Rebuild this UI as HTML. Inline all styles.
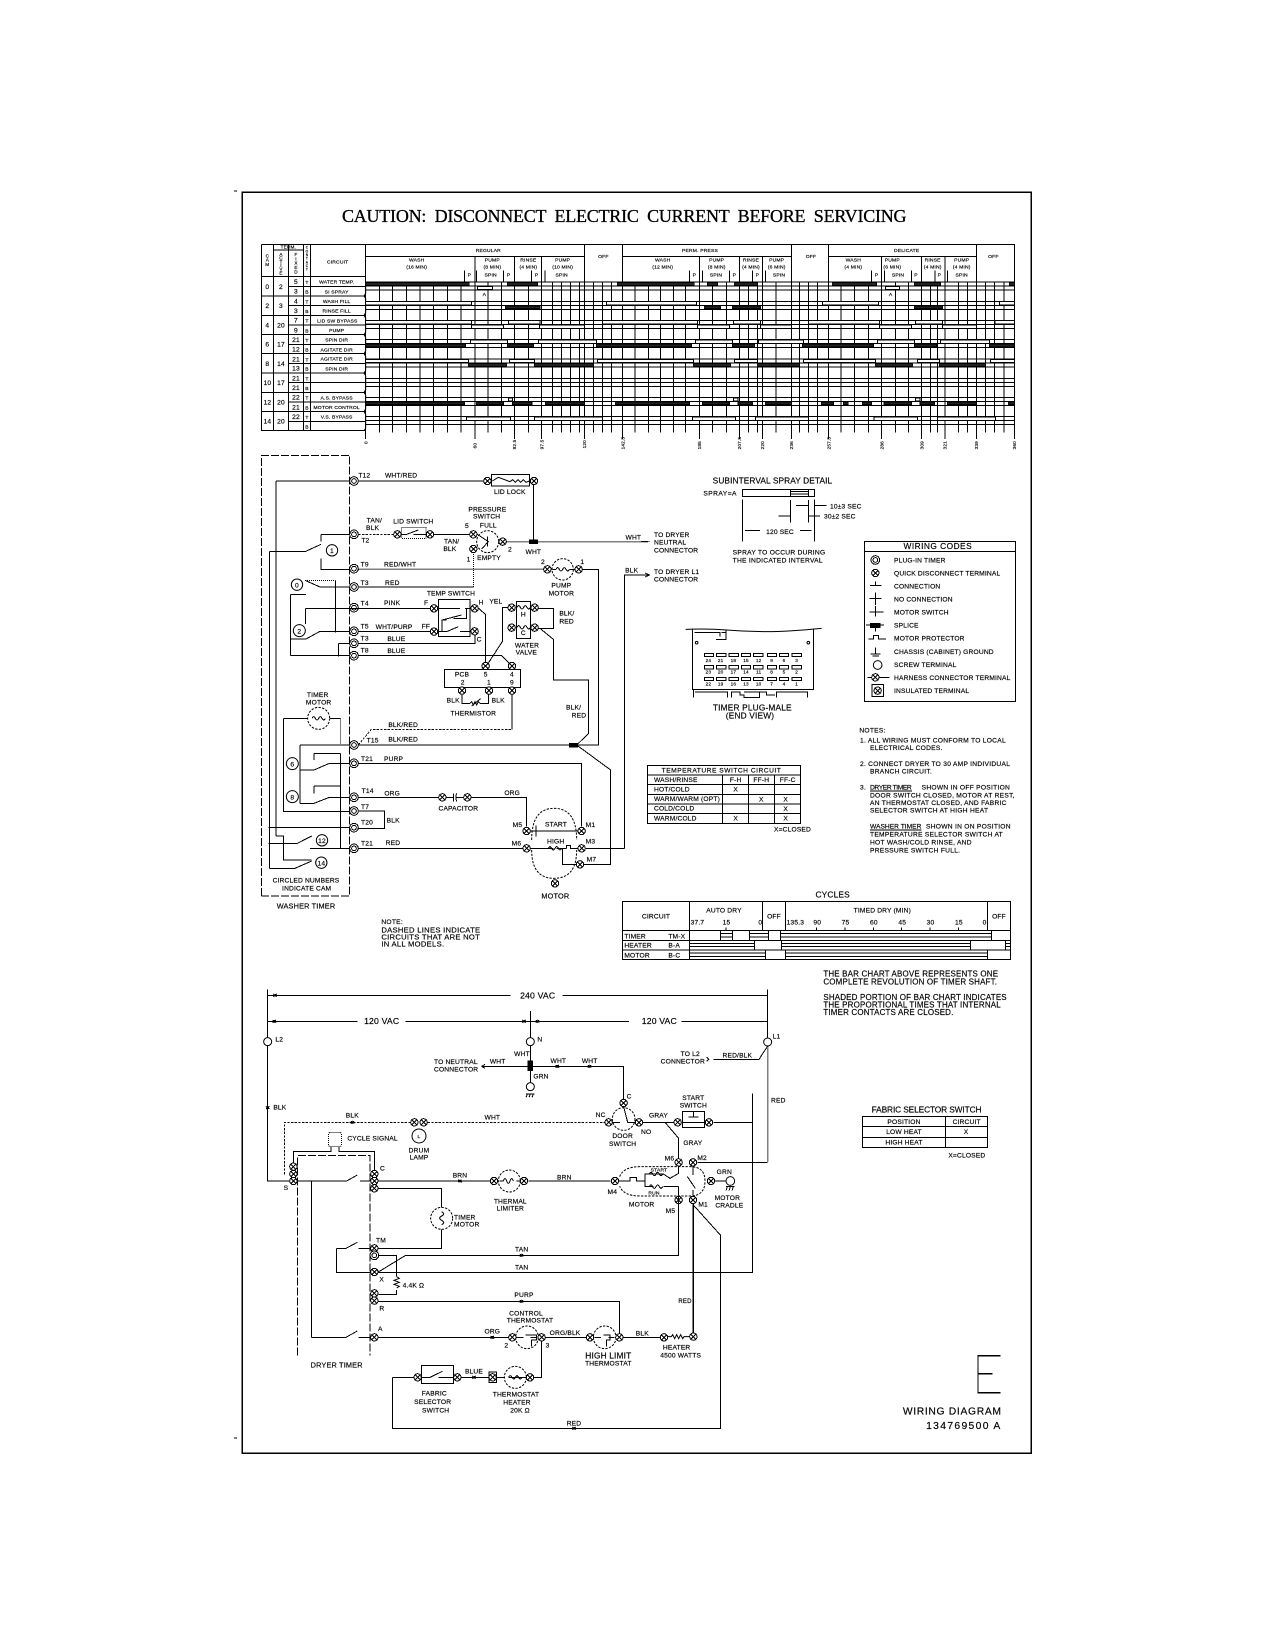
<!DOCTYPE html>
<html><head><meta charset="utf-8"><title>Wiring Diagram</title>
<style>
html,body{margin:0;padding:0;background:#fff}
svg{display:block}
.w{fill:none;stroke:#000;stroke-width:3;shape-rendering:crispEdges}
.w circle,.w .cv{shape-rendering:geometricPrecision}
text{fill:#000;stroke:#000;stroke-width:.5;font-family:"Liberation Sans",sans-serif;font-size:20px;white-space:pre;letter-spacing:.5px}
.m{text-anchor:middle}.e{text-anchor:end}
.s{font-size:15px}.t{font-size:14px}.l{font-size:25px}.n{font-size:20px;letter-spacing:.8px}.b{font-size:24px;letter-spacing:.5px}
.d{stroke-dasharray:24 6}.o{stroke-dasharray:3 3}.c{stroke-dasharray:7 4}
.f{fill:#000}
.sb{fill:#222;stroke-width:2.5}.hb{fill:#fff;stroke-width:3}
</style></head><body>
<svg width="1275" height="1650" viewBox="0 0 1275 1650" xmlns="http://www.w3.org/2000/svg">
<rect width="1275" height="1650" fill="#fff"/>
<defs>
<g id="q"><circle r="11" fill="#fff"/><path d="M-8-8L8 8M-8 8L8-8"/></g>
<g id="p"><circle r="13" fill="#fff"/><circle r="7"/></g>
<path id="k" class="cv" d="M-20 0q5-10 10 0t10 0 10 0 10 0"/>
<path id="x" d="M-5-4L1 4M-1-4L5 4M-5 4L5-4"/>
</defs>

<g class="w">
<rect x="242" y="192" width="789" height="1261" stroke-width="1.5"/>
<path d="M234 191H237M234 1438H237" stroke-width="1"/>
</g>
<text x="342" y="222" textLength="565" lengthAdjust="spacing" style="font-family:'Liberation Serif',serif;font-size:18px;stroke-width:.3">CAUTION:  DISCONNECT  ELECTRIC  CURRENT  BEFORE  SERVICING</text>

<!-- TIMER CHART -->
<g class="w" transform="translate(220 170) scale(.33333)">
<path d="M124 224H2383V336M124 224V782H437M124 320H437M160 224V782M205 240V782M250 224V782M272 224V782M437 224V340M160 240H250M205 224V240"/>
<path d="M437 260H1093M1208 260H1714M1826 260H2269M1093 224V336M1208 224V336M1714 224V336M1826 224V336M2269 224V336M437 336H2383"/>
<path d="M765 260V336M883 260V336M965 260V336M1438 260V336M1558 260V336M1627 260V336M1985 260V336M2105 260V336M2175 260V336"/>
<path d="M733 302V336M770 302V336M851 302V336M935 302V336M975 302V336M1408 302V336M1448 302V336M1528 302V336M1598 302V336M1637 302V336M1955 302V336M1993 302V336M2075 302V336M2145 302V336M2182 302V336"/>
<path d="M124 378H272M124 436H272M124 494H272M124 551H272M124 609H272M124 667H272M124 725H272"/>
<path d="M205 349H437M205 378H437M205 407H437M205 436H437M205 465H437M205 494H437M205 523H437M205 551H437M205 580H437M205 609H437M205 638H437M205 667H437M205 696H437M205 725H437M205 754H437"/>
<path class="cv" d="M437 336V370l-5 8 5 8V428l-5 8 5 8V486l-5 8 5 8V543l-5 8 5 8V601l-5 8 5 8V659l-5 8 5 8V717l-5 8 5 8V775l-5 7"/>
<!-- horizontal grid -->
<path d="M437 348H2383M437 360H2383M437 394H2383M437 406H2383M437 418H2383M437 451H2383M437 463H2383M437 476H2383M437 509H2383M437 521H2383M437 533H2383M437 567H2383M437 579H2383M437 591H2383M437 625H2383M437 637H2383M437 649H2383M437 682H2383M437 694H2383M437 707H2383M437 740H2383M437 752H2383M437 764H2383"/>
<!-- verticals -->
<path d="M478 336V788M518 336V788M560 336V788M600 336V788M641 336V788M682 336V788M723 336V788M804 336V788M844 336V788M925 336V788M997 336V788M1025 336V788M1052 336V788M1079 336V788M1120 336V788M1148 336V788M1175 336V788M1245 336V788M1286 336V788M1322 336V788M1360 336V788M1396 336V788M1478 336V788M1520 336V788M1586 336V788M1612 336V788M1668 336V788M1738 336V788M1765 336V788M1792 336V788M1863 336V788M1903 336V788M1945 336V788M2027 336V788M2065 336V788M2131 336V788M2153 336V788M2215 336V788M2242 336V788M2296 336V788M2323 336V788M2352 336V788"/>
<path d="M437 336V807M765 336V807M883 336V807M965 336V807M1093 336V807M1208 336V807M1438 336V807M1558 336V807M1627 336V807M1714 336V807M1826 336V807M1985 336V807M2105 336V807M2175 336V807M2269 336V807M2383 336V807"/>
<!-- solid bars -->
<g class="sb">
<rect x="437" y="338" width="311" height="8"/><rect x="862" y="338" width="91" height="8"/><rect x="1192" y="338" width="231" height="8"/><rect x="1463" y="338" width="30" height="8"/><rect x="1543" y="338" width="69" height="8"/><rect x="1837" y="338" width="133" height="8"/><rect x="2083" y="338" width="79" height="8"/><rect x="2368" y="338" width="15" height="8"/>
<rect x="856" y="408" width="104" height="8"/><rect x="1453" y="408" width="49" height="8"/><rect x="1537" y="408" width="85" height="8"/><rect x="2083" y="408" width="85" height="8"/>
<rect x="437" y="523" width="300" height="8"/><rect x="862" y="523" width="79" height="8"/><rect x="1130" y="523" width="285" height="8"/><rect x="1538" y="523" width="66" height="8"/><rect x="1748" y="523" width="213" height="8"/><rect x="2084" y="523" width="66" height="8"/><rect x="2309" y="523" width="74" height="8"/>
<rect x="745" y="581" width="115" height="8"/><rect x="944" y="581" width="176" height="8"/><rect x="1420" y="581" width="112" height="8"/><rect x="1612" y="581" width="126" height="8"/><rect x="1966" y="581" width="112" height="8"/><rect x="2158" y="581" width="138" height="8"/>
<rect x="437" y="696" width="297" height="8"/><rect x="769" y="696" width="82" height="8"/><rect x="878" y="696" width="58" height="8"/><rect x="976" y="696" width="117" height="8"/><rect x="1186" y="696" width="223" height="8"/><rect x="1447" y="696" width="82" height="8"/><rect x="1554" y="696" width="44" height="8"/><rect x="1636" y="696" width="78" height="8"/><rect x="1804" y="696" width="37" height="8"/><rect x="1870" y="696" width="15" height="8"/><rect x="1927" y="696" width="28" height="8"/><rect x="1992" y="696" width="83" height="8"/><rect x="2100" y="696" width="44" height="8"/><rect x="2182" y="696" width="87" height="8"/><rect x="2365" y="696" width="18" height="8"/>
</g>
<!-- hollow bars -->
<g class="hb">
<rect x="772" y="349" width="46" height="10"/><rect x="1996" y="349" width="43" height="10"/>
<rect x="437" y="395" width="318" height="10"/><rect x="1160" y="395" width="270" height="10"/><rect x="1807" y="395" width="169" height="10"/><rect x="2338" y="395" width="45" height="10"/>
<rect x="437" y="452" width="318" height="10"/><rect x="865" y="452" width="95" height="10"/><rect x="1148" y="452" width="285" height="10"/><rect x="1540" y="452" width="82" height="10"/><rect x="1765" y="452" width="213" height="10"/><rect x="2086" y="452" width="82" height="10"/><rect x="2325" y="452" width="58" height="10"/>
<rect x="755" y="465" width="96" height="10"/><rect x="958" y="465" width="135" height="10"/><rect x="1432" y="465" width="97" height="10"/><rect x="1622" y="465" width="92" height="10"/><rect x="1978" y="465" width="97" height="10"/><rect x="2168" y="465" width="101" height="10"/>
<rect x="751" y="510" width="111" height="10"/><rect x="955" y="510" width="175" height="10"/><rect x="1426" y="510" width="112" height="10"/><rect x="1615" y="510" width="135" height="10"/><rect x="1972" y="510" width="112" height="10"/><rect x="2161" y="510" width="148" height="10"/>
<rect x="437" y="568" width="308" height="10"/><rect x="868" y="568" width="76" height="10"/><rect x="1132" y="568" width="288" height="10"/><rect x="1544" y="568" width="68" height="10"/><rect x="1750" y="568" width="216" height="10"/><rect x="2093" y="568" width="65" height="10"/><rect x="2311" y="568" width="72" height="10"/>
<rect x="865" y="684" width="13" height="9"/><rect x="1540" y="684" width="14" height="9"/><rect x="2086" y="684" width="14" height="9"/>
<rect x="739" y="741" width="133" height="10"/><rect x="943" y="741" width="205" height="10"/><rect x="1417" y="741" width="130" height="10"/><rect x="1606" y="741" width="159" height="10"/><rect x="1962" y="741" width="131" height="10"/><rect x="2152" y="741" width="175" height="10"/>
</g>
<!-- header text -->
<g class="s">
<text class="m s" x="805" y="246">REGULAR</text><text class="m s" x="1440" y="246">PERM. PRESS</text><text class="m s" x="2060" y="246">DELICATE</text>
<text class="m s" x="1150" y="264">OFF</text><text class="m s" x="1773" y="264">OFF</text><text class="m s" x="2320" y="264">OFF</text>
<text class="m s" x="590" y="275">WASH</text><text class="m s" x="590" y="296">(16 MIN)</text>
<text class="m s" x="817" y="275">PUMP</text><text class="m s" x="817" y="296">(8 MIN)</text><text class="m s" x="812" y="319">SPIN</text>
<text class="m s" x="925" y="275">RINSE</text><text class="m s" x="925" y="296">(4 MIN)</text>
<text class="m s" x="1028" y="275">PUMP</text><text class="m s" x="1028" y="296">(10 MIN)</text><text class="m s" x="1025" y="319">SPIN</text>
<text class="m s" x="1328" y="275">WASH</text><text class="m s" x="1328" y="296">(12 MIN)</text>
<text class="m s" x="1490" y="275">PUMP</text><text class="m s" x="1490" y="296">(8 MIN)</text><text class="m s" x="1488" y="319">SPIN</text>
<text class="m s" x="1593" y="275">RINSE</text><text class="m s" x="1593" y="296">(4 MIN)</text>
<text class="m s" x="1670" y="275">PUMP</text><text class="m s" x="1670" y="296">(6 MIN)</text><text class="m s" x="1677" y="319">SPIN</text>
<text class="m s" x="1900" y="275">WASH</text><text class="m s" x="1900" y="296">(4 MIN)</text>
<text class="m s" x="2017" y="275">PUMP</text><text class="m s" x="2017" y="296">(6 MIN)</text><text class="m s" x="2034" y="319">SPIN</text>
<text class="m s" x="2138" y="275">RINSE</text><text class="m s" x="2138" y="296">(4 MIN)</text>
<text class="m s" x="2225" y="275">PUMP</text><text class="m s" x="2225" y="296">(4 MIN)</text><text class="m s" x="2225" y="319">SPIN</text>
<text class="m s" x="748" y="320">P</text><text class="m s" x="866" y="320">P</text><text class="m s" x="950" y="320">P</text>
<text class="m s" x="1423" y="320">P</text><text class="m s" x="1543" y="320">P</text><text class="m s" x="1612" y="320">P</text>
<text class="m s" x="1970" y="320">P</text><text class="m s" x="2088" y="320">P</text><text class="m s" x="2158" y="320">P</text>
<text class="m s" x="793" y="378">A</text><text class="m s" x="2012" y="378">A</text>
</g>
<text class="m t" x="205" y="236">TERM.</text>
<text class="m s" x="353" y="280">CIRCUIT</text>
<text class="m t" x="142" y="262">C</text><text class="m t" x="142" y="275">A</text><text class="m t" x="142" y="288">M</text>
<text class="m t" x="183" y="258">A</text><text class="m t" x="183" y="269">C</text><text class="m t" x="183" y="280">T</text><text class="m t" x="183" y="291">I</text><text class="m t" x="183" y="302">V</text><text class="m t" x="183" y="313">E</text>
<text class="m t" x="228" y="258">F</text><text class="m t" x="228" y="271">I</text><text class="m t" x="228" y="284">X</text><text class="m t" x="228" y="297">E</text><text class="m t" x="228" y="310">D</text>
<text class="m" style="font-size:10px" x="261" y="236">C</text><text class="m" style="font-size:10px" x="261" y="247">O</text><text class="m" style="font-size:10px" x="261" y="258">N</text><text class="m" style="font-size:10px" x="261" y="269">T</text><text class="m" style="font-size:10px" x="261" y="280">A</text><text class="m" style="font-size:10px" x="261" y="291">C</text><text class="m" style="font-size:10px" x="261" y="302">T</text>
<!-- cam rows -->
<g>
<text class="m" x="142" y="357">0</text><text class="m" x="183" y="357">2</text>
<text class="m" x="142" y="414">2</text><text class="m" x="183" y="414">3</text>
<text class="m" x="142" y="472">4</text><text class="m" x="183" y="472">20</text>
<text class="m" x="142" y="530">6</text><text class="m" x="183" y="530">17</text>
<text class="m" x="142" y="588">8</text><text class="m" x="183" y="588">14</text>
<text class="m" x="142" y="645">10</text><text class="m" x="183" y="645">17</text>
<text class="m" x="142" y="703">12</text><text class="m" x="183" y="703">20</text>
<text class="m" x="142" y="761">14</text><text class="m" x="183" y="761">20</text>
<text class="m" x="228" y="342">5</text><text class="m" x="228" y="371">3</text><text class="m" x="228" y="400">4</text><text class="m" x="228" y="429">3</text><text class="m" x="228" y="458">7</text><text class="m" x="228" y="487">9</text><text class="m" x="228" y="516">21</text><text class="m" x="228" y="545">12</text><text class="m" x="228" y="574">21</text><text class="m" x="228" y="602">13</text><text class="m" x="228" y="631">21</text><text class="m" x="228" y="660">21</text><text class="m" x="228" y="689">22</text><text class="m" x="228" y="718">21</text><text class="m" x="228" y="747">22</text>
<text class="m s" x="261" y="342">T</text><text class="m s" x="261" y="371">B</text><text class="m s" x="261" y="400">T</text><text class="m s" x="261" y="429">B</text><text class="m s" x="261" y="458">T</text><text class="m s" x="261" y="487">B</text><text class="m s" x="261" y="516">T</text><text class="m s" x="261" y="545">B</text><text class="m s" x="261" y="574">T</text><text class="m s" x="261" y="602">B</text><text class="m s" x="261" y="631">T</text><text class="m s" x="261" y="660">B</text><text class="m s" x="261" y="689">T</text><text class="m s" x="261" y="718">B</text><text class="m s" x="261" y="747">T</text><text class="m s" x="261" y="776">B</text>
<text class="m s" x="350" y="341">WATER TEMP.</text><text class="m s" x="350" y="370">SI SPRAY</text><text class="m s" x="350" y="399">WASH FILL</text><text class="m s" x="350" y="428">RINSE FILL</text><text class="m s" x="352" y="457">LID SW BYPASS</text><text class="m s" x="350" y="486">PUMP</text><text class="m s" x="350" y="515">SPIN DIR</text><text class="m s" x="350" y="544">AGITATE DIR</text><text class="m s" x="350" y="572">AGITATE DIR</text><text class="m s" x="350" y="601">SPIN DIR</text><text class="m s" x="350" y="688">A.S. BYPASS</text><text class="m s" x="350" y="717">MOTOR CONTROL</text><text class="m s" x="350" y="745">V.S. BYPASS</text>
</g>
<!-- scale labels -->
<g class="t">
<text class="t" transform="rotate(-90 442 822)" x="442" y="822">0</text>
<text class="t" transform="rotate(-90 769 835)" x="769" y="835">60</text>
<text class="t" transform="rotate(-90 888 838)" x="888" y="838">82.5</text>
<text class="t" transform="rotate(-90 970 838)" x="970" y="838">97.5</text>
<text class="t" transform="rotate(-90 1098 835)" x="1098" y="835">120</text>
<text class="t" transform="rotate(-90 1213 838)" x="1213" y="838">142.5</text>
<text class="t" transform="rotate(-90 1443 838)" x="1443" y="838">185</text>
<text class="t" transform="rotate(-90 1563 838)" x="1563" y="838">207.5</text>
<text class="t" transform="rotate(-90 1632 838)" x="1632" y="838">220</text>
<text class="t" transform="rotate(-90 1719 838)" x="1719" y="838">236</text>
<text class="t" transform="rotate(-90 1831 838)" x="1831" y="838">257.5</text>
<text class="t" transform="rotate(-90 1990 838)" x="1990" y="838">286</text>
<text class="t" transform="rotate(-90 2110 838)" x="2110" y="838">309</text>
<text class="t" transform="rotate(-90 2180 838)" x="2180" y="838">321</text>
<text class="t" transform="rotate(-90 2274 838)" x="2274" y="838">339</text>
<text class="t" transform="rotate(-90 2388 838)" x="2388" y="838">360</text>
</g>
</g>

<!-- WASHER UPPER -->
<g class="w" transform="translate(240 440) scale(.33333)">
<path class="d" d="M65 1368V46H329V1368H65"/>
<path d="M108 123H330M354 123H730M108 123V1188"/>
<rect x="755" y="103" width="113" height="35"/>
<path class="cv" d="M757 123L775 112 810 125l8-6 8 8 8-8 8 8 8-8 8 8 10-4"/>
<use href="#q" x="742" y="123"/><use href="#q" x="882" y="123"/><use href="#p" x="342" y="123"/>
<path d="M880 135V305"/>
<text x="355" y="113">T12</text><text x="435" y="113">WHT/RED</text><text x="762" y="162">LID LOCK</text>
<!-- T2 -->
<path d="M243 283H330M243 283V305M88 335H195L243 313M243 355V388H330M88 335V1285"/>
<circle cx="276" cy="331" r="17"/><text class="m" x="276" y="339">1</text>
<path class="c" d="M355 283H460"/>
<path d="M582 283H688"/>
<rect class="o" x="485" y="263" width="73" height="32"/>
<path d="M485 283H500L535 270M520 283H558"/>
<use href="#p" x="342" y="283"/><use href="#q" x="472" y="283"/><use href="#q" x="570" y="283"/>
<text x="380" y="247">TAN/</text><text x="378" y="270">BLK</text><text x="364" y="307">T2</text>
<text class="m" x="520" y="250">LID SWITCH</text><text x="612" y="311">TAN/</text><text x="610" y="333">BLK</text>
<circle class="c" cx="743" cy="305" r="33"/>
<path d="M712 283L745 305 725 327M743 290V320"/>
<use href="#q" x="700" y="283"/><use href="#q" x="700" y="327"/><use href="#q" x="788" y="305"/>
<text class="m" x="742" y="214">PRESSURE</text><text class="m" x="740" y="236">SWITCH</text><text class="m" x="745" y="262">FULL</text><text class="m" x="747" y="360">EMPTY</text>
<text x="675" y="264">5</text><text x="680" y="364">1</text><text x="804" y="334">2</text>
<path class="o" d="M800 305H1225" stroke-width="4"/>
<rect class="f" x="868" y="300" width="24" height="11"/>
<text class="m" x="880" y="342">WHT</text><text class="m" x="1180" y="298">WHT</text>
<!-- T9 -->
<use href="#p" x="342" y="386"/>
<path class="o" d="M355 388H910" stroke-width="4"/>
<text x="362" y="379">T9</text><text x="432" y="379">RED/WHT</text>
<circle class="c" cx="968" cy="388" r="32"/><use href="#k" x="968" y="388"/>
<path d="M938 388H948M988 388H1004"/>
<use href="#q" x="922" y="388"/><use href="#q" x="1016" y="388"/>
<path d="M1028 388H1076V915H1000"/>
<text x="903" y="372">2</text><text x="1021" y="372">1</text>
<text class="m" x="964" y="443">PUMP</text><text class="m" x="964" y="466">MOTOR</text>
<!-- T3 -->
<use href="#p" x="342" y="441"/>
<path d="M355 441H700M240 441H330M195 421L240 441"/>
<path class="o" d="M700 441V340M195 421H286"/>
<path d="M286 421V577"/>
<circle cx="171" cy="434" r="17"/><text class="m" x="171" y="442">0</text>
<path d="M152 464H198M152 464V647"/>
<text x="362" y="435">T3</text><text x="435" y="435">RED</text>
<!-- T4 -->
<use href="#p" x="342" y="503"/>
<path d="M196 505H570M196 505V552"/>
<text x="362" y="496">T4</text><text x="432" y="495">PINK</text>
<circle cx="178" cy="572" r="18"/><text class="m" x="178" y="580">2</text>
<use href="#p" x="342" y="574"/>
<path d="M240 574H330M198 597L240 574M152 597H198M355 574H570"/>
<text x="362" y="566">T5</text><text x="407" y="567">WHT/PURP</text>
<use href="#p" x="342" y="610"/>
<path d="M296 610H330M296 610V650M355 610H705V585"/>
<text x="362" y="602">T3</text><text x="442" y="603">BLUE</text>
<use href="#p" x="342" y="647"/>
<path d="M152 647H330M355 647H785L815 677"/>
<text x="362" y="638">T8</text><text x="442" y="639">BLUE</text>
<!-- temp switch -->
<rect x="596" y="478" width="94" height="112"/>
<path d="M596 505H625L660 505M675 505H690M606 575V540L665 525M680 505V535H640M596 575H620L655 560M660 575H690M606 540H620"/>
<use href="#q" x="582" y="505"/><use href="#q" x="582" y="575"/><use href="#q" x="704" y="505"/><use href="#q" x="704" y="574"/>
<text class="m" x="633" y="467">TEMP SWITCH</text><text x="552" y="495">F</text><text x="545" y="565">FF</text><text x="716" y="493">H</text><text x="710" y="605">C</text><text x="748" y="491">YEL</text>
<path d="M716 505L736 523V677"/>
<!-- valve -->
<rect x="830" y="485" width="42" height="111"/>
<use href="#k" x="851" y="502"/><use href="#k" x="851" y="562"/>
<use href="#q" x="815" y="503"/><use href="#q" x="815" y="563"/><use href="#q" x="884" y="503"/><use href="#q" x="884" y="563"/>
<text class="m" x="850" y="530">H</text><text class="m" x="850" y="585">C</text>
<text class="m" x="861" y="622">WATER</text><text class="m" x="859" y="643">VALVE</text>
<path d="M804 503H788V603L740 677M896 505H940V565H896M900 565L940 598V720H1046V880L1010 915"/>
<text x="958" y="527">BLK/</text><text x="958" y="550">RED</text><text x="978" y="809">BLK/</text><text x="995" y="832">RED</text>
<!-- PCB -->
<rect x="613" y="688" width="228" height="54"/>
<use href="#q" x="737" y="678"/><use href="#q" x="816" y="678"/><use href="#q" x="666" y="752"/><use href="#q" x="747" y="752"/><use href="#q" x="816" y="752"/>
<text class="m" x="666" y="710">PCB</text><text class="m" x="737" y="710">5</text><text class="m" x="816" y="710">4</text><text class="m" x="668" y="734">2</text><text class="m" x="747" y="734">1</text><text class="m" x="816" y="734">9</text>
<path d="M666 762V790H690M720 790H745V762M816 762V868"/>
<path class="cv" d="M690 790l5-5 5 10 5-10 5 10 5-10 5 5M695 798L722 776"/>
<text x="620" y="787">BLK</text><text x="755" y="787">BLK</text><text class="m" x="700" y="827">THERMISTOR</text>
<path d="M1154 1225V405H1225M1215 399L1228 405 1215 411"/>
<text class="m" x="1175" y="398">BLK</text>
<text class="m" x="233" y="771">TIMER</text><text class="m" x="236" y="794">MOTOR</text>
</g>

<!-- WASHER LOWER -->
<g class="w" transform="translate(240 700) scale(.33333)">
<circle class="c" cx="236" cy="55" r="33"/><use href="#k" x="236" y="55"/>
<path d="M130 55H203M270 55H302M130 55V335H330"/>
<path class="o" d="M302 55V135"/>
<path d="M302 160V445M222 160H302M222 160V180M222 258H302M222 258V280"/>
<path d="M180 135V310M180 135H330M355 135H1000M180 210H222L268 190H330M180 310H222L268 292H330"/>
<circle cx="157" cy="191" r="18"/><text class="m" x="157" y="199">6</text>
<circle cx="157" cy="290" r="18"/><text class="m" x="157" y="298">8</text>
<use href="#p" x="342" y="135"/><use href="#p" x="342" y="190"/><use href="#p" x="342" y="292"/><use href="#p" x="342" y="333"/><use href="#p" x="342" y="383"/><use href="#p" x="342" y="445"/>
<path class="c" d="M355 135L394 88H816"/>
<text x="380" y="128">T15</text><text x="445" y="124">BLK/RED</text><text x="445" y="81">BLK/RED</text>
<path d="M355 190H1025V380"/>
<text x="363" y="183">T21</text><text x="432" y="183">PURP</text>
<path d="M355 292H595M695 292H860V380M620 292H640M640 280V304M650 280Q645 292 650 304M650 292H670"/>
<use href="#q" x="607" y="292"/><use href="#q" x="682" y="292"/>
<text x="365" y="279">T14</text><text x="433" y="287">ORG</text><text class="m" x="655" y="331">CAPACITOR</text><text x="793" y="285">ORG</text>
<path d="M355 333H434V385H355"/>
<text x="363" y="327">T7</text><text x="363" y="373">T20</text><text x="440" y="367">BLK</text>
<path d="M85 383H330"/>
<path d="M355 445H848M210 445H330M108 408H130V480H165M165 480L215 480M85 431H170L215 408M88 505H165L215 483"/>
<circle cx="246" cy="421" r="17"/><text class="m" x="246" y="429">12</text>
<circle cx="244" cy="488" r="17"/><text class="m" x="244" y="496">14</text>
<text x="363" y="437">T21</text><text x="437" y="435">RED</text>
<text class="m" x="198" y="548">CIRCLED NUMBERS</text><text class="m" x="200" y="572">INDICATE CAM</text>
<text class="m" style="font-size:22px" x="198" y="625">WASHER TIMER</text>
<text class="n" x="424" y="672">NOTE:</text><text class="n" style="font-size:23px" x="424" y="697">DASHED LINES INDICATE</text><text class="n" style="font-size:23px" x="424" y="718">CIRCUITS THAT ARE NOT</text><text class="n" style="font-size:23px" x="424" y="740">IN ALL MODELS.</text>
<!-- motor -->
<path class="cv c" d="M875 420Q875 325 942 325Q1010 325 1010 420M875 450Q875 535 942 535Q1010 535 1010 450"/>
<path d="M872 393H1012M888 376L888 410M872 445H925M925 445H940M950 445H980M968 445V493H1008M980 445V437H992V445H1012"/>
<use href="#k" x="945" y="445"/>
<use href="#q" x="860" y="393"/><use href="#q" x="1025" y="393"/><use href="#q" x="860" y="445"/><use href="#q" x="1025" y="445"/><use href="#q" x="1020" y="493"/><use href="#q" x="945" y="550"/>
<text x="818" y="381">M5</text><text x="1037" y="381">M1</text><text x="815" y="436">M6</text><text x="1037" y="430">M3</text><text x="1040" y="485">M7</text>
<text class="m" x="948" y="380">START</text><text class="m" x="947" y="430">HIGH</text><text class="m" style="font-size:22px" x="946" y="595">MOTOR</text>
<path d="M1032 493H1112V210L1010 135M1038 445H1154"/>
<rect class="f" x="988" y="130" width="24" height="11"/>
</g>

<!-- RIGHT MIDDLE -->
<g class="w" transform="translate(640 440) scale(.33333)">
<path class="o" d="M5 305H30"/>
<text x="42" y="291">TO DRYER</text><text x="42" y="314">NEUTRAL</text><text x="42" y="337">CONNECTOR</text>
<text x="42" y="402">TO DRYER L1</text><text x="42" y="425">CONNECTOR</text>
<text class="l" x="218" y="130" textLength="359">SUBINTERVAL SPRAY DETAIL</text>
<text x="190" y="167" textLength="100">SPRAY=A</text>
<rect x="307" y="148" width="216" height="21"/>
<path d="M451 148V169M505 148V169M451 155H505M451 162H505M307 178V305M523 178V305M451 180V248M505 180V248"/>
<path d="M468 197H505M523 197H560M415 228H451M505 228H540M315 272H360M480 272H515"/>
<text x="570" y="205">10±3 SEC</text><text x="552" y="236">30±2 SEC</text><text class="m" x="420" y="282">120 SEC</text>
<text class="n" x="278" y="344">SPRAY TO OCCUR DURING</text><text class="n" x="278" y="368">THE INDICATED INTERVAL</text>
<!-- codes -->
<rect x="674" y="305" width="452" height="479"/>
<path d="M674 334H1126"/>
<text class="m l" x="893" y="327" textLength="205">WIRING CODES</text>
<text x="762" y="368">PLUG-IN TIMER</text><text x="762" y="407">QUICK DISCONNECT TERMINAL</text><text x="762" y="445">CONNECTION</text><text x="762" y="484">NO CONNECTION</text><text x="762" y="524">MOTOR SWITCH</text><text x="762" y="563">SPLICE</text><text x="762" y="602">MOTOR PROTECTOR</text><text x="762" y="642">CHASSIS (CABINET) GROUND</text><text x="762" y="681">SCREW TERMINAL</text><text x="762" y="720">HARNESS CONNECTOR TERMINAL</text><text x="762" y="759">INSULATED TERMINAL</text>
<use href="#p" x="706" y="360"/><use href="#q" x="706" y="399"/>
<path d="M690 437H724M707 425V437M688 476H725M707 457V495M688 516H730M706 498V530"/>
<rect class="f" x="692" y="550" width="28" height="13"/>
<path d="M678 555H732M706 563V575M686 597H700V587H716V597H738M692 642L722 642M697 648H717M707 622V642"/>
<circle cx="713" cy="675" r="13"/>
<path d="M682 712H748"/><use href="#q" x="706" y="712"/>
<rect x="696" y="734" width="34" height="36"/><use href="#q" x="713" y="752"/>
<!-- plug -->
<path class="cv" d="M137 568Q200 565 260 570T380 575 545 565"/>
<path d="M158 565V748H520V565M163 578H240V590M258 570V598H228M244 578H258M160 748V772M165 756H262V772M502 772V756H410V772M275 772V756H300V765H312V772H358V756H380V765H405M312 756H358"/>
<circle cx="170" cy="608" r="4"/><circle cx="505" cy="608" r="4"/>
<g>
<rect x="193" y="640" width="28" height="10"/><rect x="230" y="640" width="28" height="10"/><rect x="267" y="640" width="28" height="10"/><rect x="304" y="640" width="28" height="10"/><rect x="341" y="640" width="28" height="10"/><rect x="382" y="640" width="28" height="10"/><rect x="418" y="640" width="28" height="10"/><rect x="456" y="640" width="28" height="10"/>
<rect x="193" y="677" width="28" height="10"/><rect x="230" y="677" width="28" height="10"/><rect x="267" y="677" width="28" height="10"/><rect x="304" y="677" width="28" height="10"/><rect x="341" y="677" width="28" height="10"/><rect x="382" y="677" width="28" height="10"/><rect x="418" y="677" width="28" height="10"/><rect x="456" y="677" width="28" height="10"/>
<rect x="193" y="712" width="28" height="10"/><rect x="230" y="712" width="28" height="10"/><rect x="267" y="712" width="28" height="10"/><rect x="304" y="712" width="28" height="10"/><rect x="341" y="712" width="28" height="10"/><rect x="382" y="712" width="28" height="10"/><rect x="418" y="712" width="28" height="10"/><rect x="456" y="712" width="28" height="10"/>
</g>
<g class="t">
<text class="m t" x="205" y="666">24</text><text class="m t" x="242" y="666">21</text><text class="m t" x="280" y="666">18</text><text class="m t" x="318" y="666">15</text><text class="m t" x="356" y="666">12</text><text class="m t" x="395" y="666">9</text><text class="m t" x="432" y="666">6</text><text class="m t" x="470" y="666">3</text>
<text class="m t" x="205" y="701">23</text><text class="m t" x="242" y="701">20</text><text class="m t" x="280" y="701">17</text><text class="m t" x="318" y="701">14</text><text class="m t" x="356" y="701">11</text><text class="m t" x="395" y="701">8</text><text class="m t" x="432" y="701">5</text><text class="m t" x="470" y="701">2</text>
<text class="m t" x="205" y="737">22</text><text class="m t" x="242" y="737">19</text><text class="m t" x="280" y="737">16</text><text class="m t" x="318" y="737">13</text><text class="m t" x="356" y="737">10</text><text class="m t" x="395" y="737">7</text><text class="m t" x="432" y="737">4</text><text class="m t" x="470" y="737">1</text>
</g>
<text class="m l" x="337" y="811">TIMER PLUG-MALE</text><text class="m l" x="330" y="835">(END VIEW)</text>
</g>

<!-- TABLES / NOTES -->
<g class="w" transform="translate(620 710) scale(.33333)">
<rect x="82" y="167" width="459" height="174"/>
<path d="M82 195H541M82 224H541M82 253H541M82 282H541M82 311H541M307 195V341M385 195V341M464 195V341"/>
<text class="m" x="304" y="188" textLength="358">TEMPERATURE SWITCH CIRCUIT</text>
<text x="102" y="216">WASH/RINSE</text><text class="m" x="347" y="216">F-H</text><text class="m" x="424" y="216">FF-H</text><text class="m" x="503" y="216">FF-C</text>
<text x="102" y="244">HOT/COLD</text><text class="m" x="347" y="245">X</text>
<text x="102" y="273">WARM/WARM (OPT)</text><text class="m" x="424" y="274">X</text><text class="m" x="497" y="274">X</text>
<text x="102" y="302">COLD/COLD</text><text class="m" x="497" y="303">X</text>
<text x="102" y="331">WARM/COLD</text><text class="m" x="347" y="332">X</text><text class="m" x="497" y="332">X</text>
<text x="462" y="365">X=CLOSED</text>
<!-- notes -->
<text class="n" x="718" y="68">NOTES:</text>
<text class="n" x="720" y="97">1. ALL WIRING MUST CONFORM TO LOCAL</text><text class="n" x="750" y="120">ELECTRICAL CODES.</text>
<text class="n" x="720" y="168">2. CONNECT DRYER TO 30 AMP INDIVIDUAL</text><text class="n" x="750" y="191">BRANCH CIRCUIT.</text>
<text class="n" x="720" y="238">3.</text><text class="n" x="750" y="238" textLength="126">DRYER TIMER</text><text class="n" x="905" y="238">SHOWN IN OFF POSITION</text>
<path d="M750 243H876M750 360H905"/>
<text class="n" x="750" y="262">DOOR SWITCH CLOSED, MOTOR AT REST,</text><text class="n" x="750" y="285">AN THERMOSTAT CLOSED, AND FABRIC</text><text class="n" x="750" y="308">SELECTOR SWITCH AT HIGH HEAT</text>
<text class="n" x="750" y="356" textLength="155">WASHER TIMER</text><text class="n" x="918" y="356">SHOWN IN ON POSITION</text><text class="n" x="750" y="380">TEMPERATURE SELECTOR SWITCH AT</text><text class="n" x="750" y="404">HOT WASH/COLD RINSE, AND</text><text class="n" x="750" y="428">PRESSURE SWITCH FULL.</text>
<!-- cycles -->
<text class="m l" x="638" y="562">CYCLES</text>
<rect x="8" y="574" width="1163" height="175"/>
<path d="M8 661H1171M8 691H1171M8 720H1171M208 574V749M428 574V661M496 574V661M1103 574V661"/>
<path d="M318 653V661M590 653V661M675 653V661M760 653V661M845 653V661M930 653V661M1015 653V661"/>
<text class="m" x="108" y="626">CIRCUIT</text><text class="m" x="312" y="608">AUTO DRY</text><text class="m" x="462" y="626">OFF</text><text class="m" x="787" y="608">TIMED DRY (MIN)</text><text class="m" x="1137" y="626">OFF</text>
<text x="212" y="643">37.7</text><text x="308" y="643">15</text><text x="415" y="643">0</text><text x="500" y="643">135.3</text><text x="580" y="643">90</text><text x="665" y="643">75</text><text x="750" y="643">60</text><text x="835" y="643">45</text><text x="920" y="643">30</text><text x="1005" y="643">15</text><text x="1088" y="643">0</text>
<text x="13" y="685">TIMER</text><text x="145" y="685">TM-X</text><text x="13" y="713">HEATER</text><text x="145" y="713">B-A</text><text x="13" y="743">MOTOR</text><text x="145" y="743">B-C</text>
<path d="M302 671H338M302 681H338M302 661V691M338 661V691M388 671H445M388 681H445M388 661V691M445 661V691M482 671H1114M482 681H1114M482 661V691M1114 661V691"/>
<path d="M210 700H403M210 710H403M403 691V720M485 700H1051M485 710H1051M485 691V720M1051 691V720M1156 700H1171M1156 710H1171M1156 691V720"/>
<path d="M210 729H436M210 739H436M436 720V749M497 729H1103M497 739H1103M497 720V749M1103 720V749"/>
</g>

<!-- DRYER TOP -->
<g class="w" transform="translate(240 970) scale(.33333)">
<path d="M82 58V203M82 76H812M968 76H1583M82 154H353M497 154H1167M1325 154H1583M1583 58V203M871 123V203"/>
<text class="m" style="font-size:26px" x="893" y="85">240 VAC</text><text class="m" style="font-size:26px" x="425" y="162">120 VAC</text><text class="m" style="font-size:26px" x="1258" y="162">120 VAC</text>
<circle cx="83" cy="215" r="12" fill="#fff"/><text x="106" y="214">L2</text>
<path d="M83 227V633H150"/><text x="100" y="418">BLK</text>
<circle cx="871" cy="215" r="12" fill="#fff"/><text x="892" y="214">N</text>
<text class="m" x="846" y="258">WHT</text>
<path d="M871 227V275M725 289H1151V390M871 302V338M725 289L735 283M725 289L735 295"/>
<rect class="f" x="864" y="273" width="14" height="29"/>
<text x="582" y="282">TO NEUTRAL</text><text x="582" y="305">CONNECTOR</text><text class="m" x="773" y="281">WHT</text><text class="m" x="955" y="279">WHT</text><text class="m" x="1049" y="279">WHT</text><text class="m" x="903" y="326">GRN</text>
<circle cx="871" cy="350" r="12" fill="#fff"/><path d="M858 372H884M862 372L858 382M871 372L867 382M880 372L876 382"/>
<path class="c" d="M133 613V457H510M563 457H1095"/>
<use href="#q" x="523" y="457"/><use href="#q" x="551" y="457"/>
<circle cx="537" cy="498" r="21"/><text class="m s" x="537" y="504">L</text>
<text class="m" x="337" y="443">BLK</text><text class="m" x="757" y="448">WHT</text>
<text class="m" x="537" y="548">DRUM</text><text class="m" x="537" y="569">LAMP</text>
<rect class="o" x="265" y="487" width="40" height="43" rx="6"/>
<text x="322" y="512">CYCLE SIGNAL</text>
<path d="M273 530V545H160V580M297 530V545H403V600"/>
<path class="d" d="M173 1156V557H390V1156"/>
<use href="#q" x="160" y="590"/><use href="#q" x="160" y="612"/><use href="#q" x="160" y="633"/><use href="#q" x="403" y="612"/><use href="#q" x="403" y="633"/><use href="#q" x="403" y="655"/>
<text x="131" y="660">S</text><text x="420" y="602">C</text>
<path d="M170 633H320L352 615M360 633H393M215 633V1102"/>
<path d="M415 633H750M865 633H1112M778 633H790M830 633H840"/>
<path d="M415 655H605V835H415"/>
<circle class="c" cx="808" cy="633" r="33"/>
<path class="cv" d="M790 633q5-14 10 0t10 0 10 0"/>
<use href="#q" x="762" y="633"/><use href="#q" x="852" y="633"/>
<use href="#x" x="660" y="633"/><use href="#x" x="952" y="289"/><use href="#x" x="1049" y="289"/><use href="#x" x="83" y="413"/><use href="#x" x="338" y="457"/><use href="#x" x="105" y="76"/><use href="#x" x="103" y="154"/><use href="#x" x="852" y="154"/><use href="#x" x="893" y="154"/>
<text class="m" x="660" y="623">BRN</text><text class="m" x="973" y="628">BRN</text>
<text class="m" x="811" y="701">THERMAL</text><text class="m" x="811" y="722">LIMITER</text>
<circle class="c" cx="605" cy="745" r="33" fill="#fff"/><path class="cv" d="M605 725q12 7 0 13t0 13 0 13"/>
<text x="642" y="748">TIMER</text><text x="642" y="769">MOTOR</text>
<!-- door switch -->
<circle class="c" cx="1151" cy="447" r="34"/>
<path d="M1151 410L1163 457M1118 457H1140M1163 457L1185 457"/>
<use href="#q" x="1151" y="399"/><use href="#q" x="1106" y="457"/><use href="#q" x="1197" y="457"/>
<text x="1160" y="385">C</text><text x="1067" y="441">NC</text><text x="1203" y="492">NO</text>
<text class="m" x="1148" y="504">DOOR</text><text class="m" x="1148" y="528">SWITCH</text>
<path d="M1209 457H1310"/>
<path d="M1137 633H1170V623H1190V633H1215M1215 633V612H1240M1215 633V650H1240"/>
<use href="#q" x="1125" y="633"/>
<text class="m" x="1117" y="672">M4</text><text class="m" x="1205" y="709">MOTOR</text>
<text x="1232" y="605" class="s">START</text><text x="1225" y="674" class="s">RUN</text>
<path class="c cv" d="M1139 620Q1150 590 1200 590H1350Q1395 590 1395 633Q1395 678 1350 678H1200Q1150 678 1139 648"/>
</g>

<!-- DRYER RIGHT -->
<g class="w" transform="translate(620 970) scale(.33333)">
<text class="b" x="610" y="20">THE BAR CHART ABOVE REPRESENTS ONE</text><text class="b" x="610" y="43">COMPLETE REVOLUTION OF TIMER SHAFT.</text>
<text class="b" x="610" y="90">SHADED PORTION OF BAR CHART INDICATES</text><text class="b" x="610" y="113">THE PROPORTIONAL TIMES THAT INTERNAL</text><text class="b" x="610" y="135">TIMER CONTACTS ARE CLOSED.</text>
<circle cx="443" cy="216" r="12" fill="#fff"/>
<text x="458" y="206">L1</text>
<path d="M443 228L417 268H280M260 262L266 268 260 274"/>
<text class="m" x="352" y="262">RED/BLK</text>
<text x="182" y="258">TO L2</text><text x="122" y="281">CONNECTOR</text>
<path class="o" d="M443 230V577" stroke-width="4"/>
<text x="453" y="398">RED</text>
<text class="m" x="220" y="390">START</text><text class="m" x="220" y="412">SWITCH</text>
<rect x="188" y="424" width="66" height="48"/>
<path d="M188 457H205M235 457H254M205 441H235M220 426V441M205 457L235 457"/>
<use href="#q" x="173" y="457"/><use href="#q" x="267" y="457"/>
<path d="M280 457H397V840M70 457H135L176 505V565"/>
<text x="87" y="443">GRAY</text><text x="190" y="525">GRAY</text>
<use href="#q" x="176" y="577"/><use href="#q" x="219" y="577"/>
<text x="134" y="571">M6</text><text x="232" y="570">M2</text>
<path d="M232 577H443"/>
<path d="M176 589V610L150 625 130 612H85M176 650V680M130 650H176M219 589V615M219 660V680M202 620L226 655"/>
<use href="#k" x="108" y="612"/><use href="#k" x="108" y="650"/>
<use href="#q" x="176" y="690"/><use href="#q" x="219" y="690"/><use href="#q" x="273" y="633"/>
<text x="137" y="729">M5</text><text x="235" y="709">M1</text><text x="290" y="612">GRN</text>
<path d="M285 633H318M318 650H344M322 650L318 662M331 650L327 662M340 650L336 662"/>
<circle cx="331" cy="633" r="13" fill="#fff"/>
<text class="m" x="322" y="690">MOTOR</text><text class="m" x="328" y="712">CRADLE</text>
<path d="M176 702V840M219 702V1088"/>
<!-- fabric table -->
<text class="m l" x="920" y="427" textLength="330">FABRIC SELECTOR SWITCH</text>
<rect x="728" y="439" width="374" height="93"/>
<path d="M728 470H1102M728 502H1102M976 439V532"/>
<text class="m" x="852" y="462">POSITION</text><text class="m" x="1040" y="462">CIRCUIT</text>
<text class="m" x="852" y="492">LOW HEAT</text><text class="m" x="1038" y="492">X</text>
<text class="m" x="852" y="523">HIGH HEAT</text>
<text x="985" y="562">X=CLOSED</text>
</g>

<!-- DRYER BOTTOM -->
<g class="w" transform="translate(260 1200) scale(.33333)">
<use href="#q" x="343" y="145"/><use href="#p" x="343" y="166"/><use href="#q" x="343" y="216"/><use href="#q" x="343" y="280"/><use href="#q" x="343" y="302"/><use href="#q" x="343" y="412"/>
<text x="348" y="127">TM</text><text x="358" y="245">X</text><text x="358" y="332">R</text><text x="354" y="393">A</text>
<path d="M229 145H258L292 127M295 145H331M229 145V217H331M355 145H545V90"/>
<path d="M355 166H410V230M410 270V283H355"/>
<path class="cv" d="M410 230l8 5-16 6 16 6-16 6 16 6-8 5"/>
<text x="428" y="262">4.4K Ω</text>
<path d="M355 216L437 166H1255V-40M355 217H1478V-320"/>
<text class="m" x="785" y="154">TAN</text><text class="m" x="785" y="208">TAN</text>
<path d="M355 304H1078V400"/><text class="m" x="792" y="291">PURP</text>
<path d="M155 412H258L292 393M295 412H331M355 412H745M857 412H980M1090 412H1200"/>
<use href="#x" x="785" y="166"/><use href="#x" x="785" y="304"/><use href="#x" x="697" y="412"/><use href="#x" x="642" y="532"/><use href="#x" x="942" y="685"/>
<text class="m" x="697" y="400">ORG</text><text x="869" y="405">ORG/BLK</text><text class="m" x="1147" y="406">BLK</text>
<circle class="c" cx="801" cy="412" r="34"/><path d="M770 412H790M812 412H830M796 405H830V420H815V440"/>
<use href="#q" x="757" y="412"/><use href="#q" x="845" y="412"/>
<text class="m" x="798" y="347">CONTROL</text><text class="m" x="810" y="367">THERMOSTAT</text>
<text x="733" y="443">2</text><text x="857" y="443">3</text>
<circle class="c" cx="1034" cy="412" r="34"/><path d="M1003 412H1023M1045 412H1063M1030 405H1050V420H1040V440"/>
<use href="#q" x="990" y="412"/><use href="#q" x="1078" y="412"/>
<text class="m l" x="1045" y="476">HIGH LIMIT</text><text class="m" x="1045" y="497">THERMOSTAT</text>
<text class="m" style="font-size:22px" x="230" y="503">DRYER TIMER</text>
<rect x="484" y="496" width="96" height="54"/>
<path d="M484 532H510L547 514M535 532H580"/>
<use href="#q" x="473" y="532"/><use href="#q" x="592" y="532"/>
<path d="M398 532H461M398 532V685H1381M604 532H685M710 532H735M800 532H745M822 532H845V424"/>
<text class="m" x="523" y="586">FABRIC</text><text class="m" x="518" y="612">SELECTOR</text><text class="m" x="527" y="637">SWITCH</text>
<text class="m" x="642" y="520">BLUE</text>
<rect x="687" y="516" width="23" height="32" fill="#fff"/><use href="#q" x="698" y="532"/>
<circle class="c" cx="766" cy="532" r="33"/><use href="#k" x="766" y="532"/>
<use href="#q" x="810" y="532"/>
<text class="m" x="768" y="590">THERMOSTAT</text><text class="m" x="771" y="614">HEATER</text><text class="m" x="780" y="637">20K Ω</text>
<text class="m" x="942" y="677">RED</text>
<use href="#q" x="1212" y="412"/>
</g>
<g class="w" transform="translate(660 1200) scale(.33333)">
<path class="cv" d="M24 410H34l4-6 6 12 6-12 6 12 6-12 6 12 4-6H88"/>
<use href="#q" x="100" y="410"/>
<path d="M100 10V398M100 15L181 105V685H0M-200 217H278V0"/>
<text class="m" x="75" y="309" style="font-size:18px">RED</text>
<text class="m" x="50" y="449">HEATER</text><text class="m" x="62" y="473">4500 WATTS</text>
<path d="M1022 467H954V578H1022M954 521H998" stroke-width="4"/>
<text x="1025" y="644" style="font-size:31px;text-anchor:end;letter-spacing:2px">WIRING DIAGRAM</text>
<text x="1025" y="687" style="font-size:31px;text-anchor:end;letter-spacing:4px">134769500 A</text>
</g>
</svg>
</body></html>
